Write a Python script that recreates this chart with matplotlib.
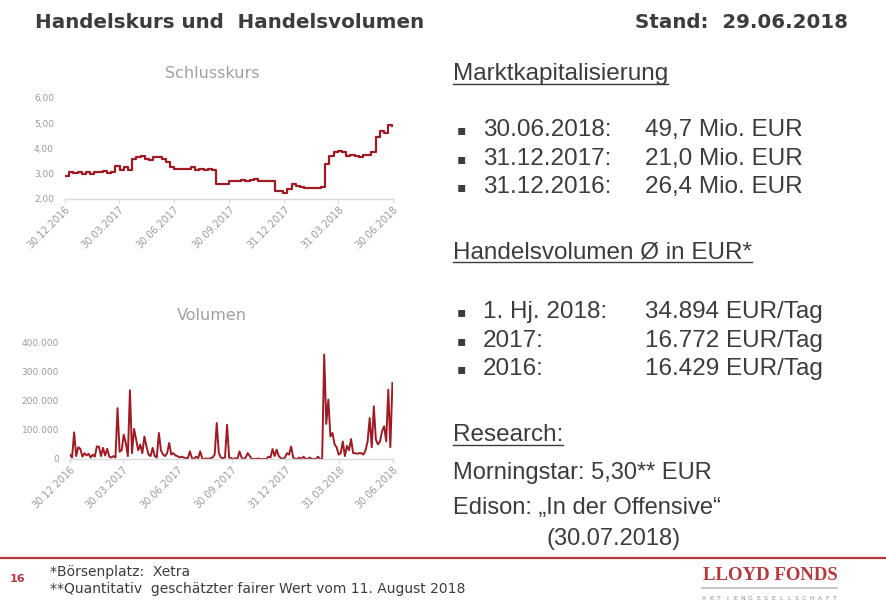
import matplotlib.pyplot as plt
import numpy as np
from matplotlib.lines import Line2D

# Schlusskurs: Wochenwerte ab 30.12.2016 (Tage seit Start = 7 * Index)
kurs_tage_schritt = 7
kurs = [2.90, 3.05, 3.02, 3.05, 3.00, 3.08, 3.00, 3.05, 3.05, 3.10,
        3.03, 3.08, 3.30, 3.15, 3.25, 3.15, 3.60, 3.65, 3.72, 3.60,
        3.55, 3.68, 3.65, 3.60, 3.45, 3.25, 3.20, 3.18, 3.20, 3.18,
        3.25, 3.15, 3.20, 3.15, 3.17, 3.15, 2.60, 2.60, 2.60, 2.72,
        2.72, 2.72, 2.75, 2.73, 2.76, 2.80, 2.73, 2.73, 2.73, 2.73,
        2.30, 2.30, 2.25, 2.40, 2.60, 2.50, 2.47, 2.42, 2.42, 2.45,
        2.42, 2.47, 3.40, 3.72, 3.85, 3.90, 3.85, 3.70, 3.75, 3.72,
        3.68, 3.73, 3.75, 3.85, 4.45, 4.70, 4.60, 4.95, 4.90]

# Volumen: zwei Werte pro Woche (Tage seit Start = 3.5 * Index)
vol_tage_schritt = 3.5
volumen = [15000, 5000, 91000, 10000, 40000, 35000, 8000, 20000, 12000, 18000,
           5000, 15000, 8000, 43000, 42000, 10000, 38000, 12000, 35000, 8000,
           5000, 10000, 5000, 174000, 25000, 30000, 83000, 55000, 10000, 235000,
           20000, 103000, 66000, 30000, 49000, 20000, 77000, 43000, 15000, 10000,
           38000, 10000, 5000, 89000, 30000, 15000, 10000, 20000, 55000, 15000,
           20000, 12000, 10000, 5000, 8000, 5000, 3000, 3000, 26000, 3000,
           0, 8000, 2000, 26000, 2000, 0, 2000, 0, 3000, 5000,
           15000, 123000, 20000, 5000, 3000, 5000, 117000, 5000, 3000, 0,
           3000, 0, 26000, 5000, 0, 5000, 20000, 10000, 0, 0,
           0, 2000, 0, 0, 0, 0, 8000, 5000, 34000, 10000,
           32000, 10000, 3000, 0, 5000, 20000, 15000, 43000, 5000, 0,
           0, 5000, 0, 8000, 0, 0, 5000, 0, 0, 0,
           8000, 0, 0, 357000, 120000, 203000, 77000, 89000, 50000, 40000,
           15000, 20000, 60000, 10000, 45000, 30000, 68000, 20000, 20000, 18000,
           20000, 20000, 15000, 30000, 60000, 140000, 40000, 180000, 66000, 50000,
           60000, 95000, 112000, 60000, 237000, 40000, 260000]

tick_tage = [0, 90, 182, 274, 366, 456, 547]
tick_labels = ['30.12.2016', '30.03.2017', '30.06.2017', '30.09.2017',
               '31.12.2017', '31.03.2018', '30.06.2018']
kurs_ticks = [2, 3, 4, 5, 6]
kurs_tick_labels = ['2,00', '3,00', '4,00', '5,00', '6,00']
vol_ticks = [0, 100000, 200000, 300000, 400000]
vol_tick_labels = ['0', '100.000', '200.000', '300.000', '400.000']

W, H = 887, 601
rot = '#9E1B24'
grau_text = '#3c3c3c'
achse_grau = '#d9d9d9'
label_grau = '#9a9a9a'

fig = plt.figure(figsize=(W / 100, H / 100), dpi=100)


def fx(px):
    return px / W


def fy(py):
    return 1 - py / H


def mini_achse(left, right, top, bottom):
    ax = fig.add_axes([fx(left), fy(bottom), fx(right - left), fy(top) - fy(bottom)])
    for s in ['top', 'right', 'left']:
        ax.spines[s].set_visible(False)
    ax.spines['bottom'].set_color(achse_grau)
    ax.spines['bottom'].set_linewidth(1.0)
    ax.tick_params(axis='y', length=0, labelsize=6.5, labelcolor=label_grau, pad=8)
    ax.tick_params(axis='x', length=3, color=achse_grau, labelsize=7,
                   labelcolor=label_grau, pad=1)
    ax.set_xlim(0, 547)
    ax.set_xticks(tick_tage)
    ax.set_xticklabels(tick_labels, rotation=45, ha='right', rotation_mode='anchor')
    ax.patch.set_alpha(0)
    return ax


# Schlusskurs
ax1 = mini_achse(65, 393, 98, 199)
tage_k = np.arange(len(kurs)) * kurs_tage_schritt
ax1.plot(tage_k, kurs, color=rot, lw=1.6, drawstyle='steps-post')
ax1.set_ylim(2, 6)
ax1.set_yticks(kurs_ticks)
ax1.set_yticklabels(kurs_tick_labels)
fig.text(fx(212), fy(73), 'Schlusskurs', ha='center', va='center',
         fontsize=11.5, color='#9da1a6')

# Volumen
ax2 = mini_achse(70, 393, 342, 459)
tage_v = np.arange(len(volumen)) * vol_tage_schritt
ax2.plot(tage_v, volumen, color=rot, lw=1.4)
ax2.set_ylim(0, 400000)
ax2.set_yticks(vol_ticks)
ax2.set_yticklabels(vol_tick_labels)
fig.text(fx(212), fy(316), 'Volumen', ha='center', va='center',
         fontsize=11.5, color='#9da1a6')

# Kopfzeile
fig.text(fx(35), fy(22), 'Handelskurs und  Handelsvolumen', ha='left', va='center',
         fontsize=14.3, fontweight='bold', color=grau_text)
fig.text(fx(848), fy(22), 'Stand:  29.06.2018', ha='right', va='center',
         fontsize=14.3, fontweight='bold', color=grau_text)

body = ['Liberation Sans', 'DejaVu Sans']
ueberschriften = []


def ueberschrift(x, y, s):
    t = fig.text(fx(x), fy(y), s, ha='left', va='center', fontsize=17.5,
                 color=grau_text, family=body)
    ueberschriften.append(t)


def zeile(y, links, rechts):
    fig.text(fx(457), fy(y), '▪', ha='left', va='center', fontsize=10,
             color=grau_text, family=['DejaVu Sans'])
    fig.text(fx(483), fy(y), links, ha='left', va='center', fontsize=17.5,
             color=grau_text, family=body)
    fig.text(fx(645), fy(y), rechts, ha='left', va='center', fontsize=17.5,
             color=grau_text, family=body)


ueberschrift(453, 74, 'Marktkapitalisierung')
zeile(130, '30.06.2018:', '49,7 Mio. EUR')
zeile(159, '31.12.2017:', '21,0 Mio. EUR')
zeile(187, '31.12.2016:', '26,4 Mio. EUR')

ueberschrift(453, 252, 'Handelsvolumen Ø in EUR*')
zeile(312, '1. Hj. 2018:', '34.894 EUR/Tag')
zeile(341, '2017:', '16.772 EUR/Tag')
zeile(369, '2016:', '16.429 EUR/Tag')

ueberschrift(453, 435, 'Research:')
fig.text(fx(453), fy(473), 'Morningstar: 5,30** EUR', ha='left', va='center',
         fontsize=17, color=grau_text, family=body)
fig.text(fx(453), fy(508), 'Edison: „In der Offensive“', ha='left', va='center',
         fontsize=17, color=grau_text, family=body)
fig.text(fx(547), fy(539), '(30.07.2018)', ha='left', va='center',
         fontsize=17, color=grau_text, family=body)

# Unterstreichungen
fig.canvas.draw()
renderer = fig.canvas.get_renderer()
for t in ueberschriften:
    bb = t.get_window_extent(renderer)
    y_line = bb.y0 + 1
    fig.add_artist(Line2D([bb.x0 / W, bb.x1 / W], [y_line / H, y_line / H],
                          color=grau_text, lw=1.0, transform=fig.transFigure))

# Fußzeile
fig.add_artist(Line2D([0, 1], [fy(558), fy(558)], color='#b23a3e', lw=1.6,
                      transform=fig.transFigure))
fig.text(fx(10), fy(579), '16', ha='left', va='center', fontsize=8,
         fontweight='bold', color='#b23a3e')
fig.text(fx(50), fy(572), '*Börsenplatz:  Xetra', ha='left', va='center',
         fontsize=10, color=grau_text)
fig.text(fx(50), fy(589), '**Quantitativ  geschätzter fairer Wert vom 11. August 2018',
         ha='left', va='center', fontsize=10, color=grau_text)
fig.text(fx(770), fy(575), 'LLOYD FONDS', ha='center', va='center', fontsize=13.5,
         fontweight='bold', color='#b23a3e', family=['Liberation Serif', 'DejaVu Serif'])
fig.add_artist(Line2D([fx(702), fx(837)], [fy(588), fy(588)], color='#c8c8c8', lw=1.5,
                      transform=fig.transFigure))
zusatz = 'AKTIENGESELLSCHAFT'
for xp, ch in zip(np.linspace(704, 835, len(zusatz)), zusatz):
    fig.text(fx(xp), fy(598), ch, ha='center', va='center', fontsize=4.5,
             color='#8c8c8c')

plt.savefig('out.png', dpi=100)
